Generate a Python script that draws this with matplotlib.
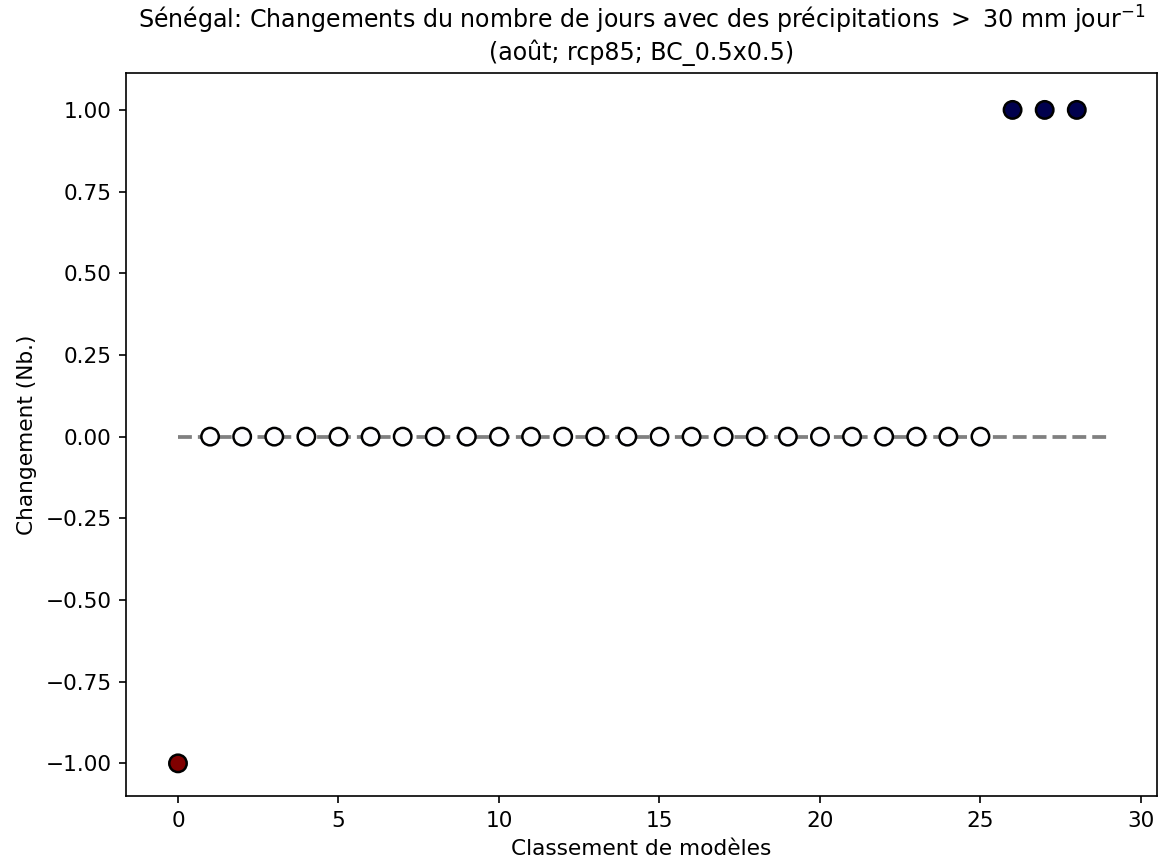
import numpy as np
import matplotlib
matplotlib.use('Agg')
import matplotlib.pyplot as plt


# model ranks and change in number of days (> 30 mm/day)
ranks = np.arange(29)
changes = [-1] + [0] * 25 + [1, 1, 1]

TITLE = ('Sénégal: Changements du nombre de jours avec des précipitations $>$ 30 mm jour$^{-1}$'
         '\n(août; rcp85; BC_0.5x0.5)')
XLABEL = 'Classement de modèles'
YLABEL = 'Changement (Nb.)'

plt.rcParams['font.size'] = 10.4

fig = plt.figure(figsize=(1159 / 150, 863 / 150), dpi=150)
ax = fig.add_axes([0.1087, 0.0776, 0.8896, 0.8382])

# zero reference line
ax.hlines(0, 0, len(ranks), colors='grey', linestyles='--', linewidth=1.8, zorder=1)

ax.scatter(ranks, changes, c=changes, cmap='seismic_r', vmin=-1, vmax=1,
           s=70, edgecolors='black', linewidths=1.2, zorder=2)

ax.set_xlim(-1.62, 30.5)
ax.set_ylim(-1.1, 1.114)
ax.set_yticks(np.arange(-1, 1.01, 0.25))
ax.set_title(TITLE, fontsize=11.4)
ax.set_xlabel(XLABEL)
ax.set_ylabel(YLABEL)

plt.savefig('out.png', dpi=150)
